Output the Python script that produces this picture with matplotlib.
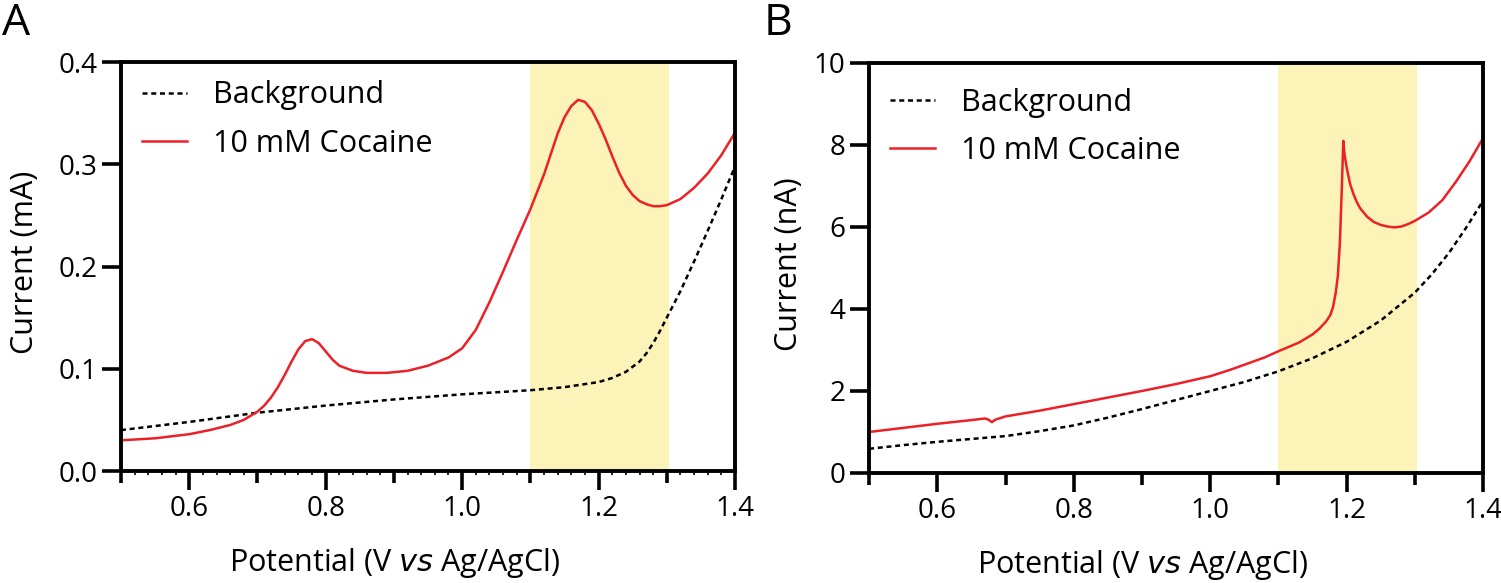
import numpy as np
import matplotlib
matplotlib.use('Agg')
import matplotlib.pyplot as plt
from matplotlib.ticker import MultipleLocator, FixedLocator, FormatStrFormatter

plt.rcParams['font.family'] = ['Open Sans', 'DejaVu Sans']

# panel A: current in mA
xa_red = [0.50, 0.55, 0.60, 0.63, 0.66, 0.68, 0.70, 0.71, 0.72, 0.73, 0.74, 0.75, 0.76, 0.77, 0.78,
          0.79, 0.80, 0.81, 0.82, 0.84, 0.86, 0.89, 0.92, 0.95, 0.98, 1.00, 1.02, 1.04, 1.06, 1.08,
          1.10, 1.12, 1.13, 1.14, 1.15, 1.16, 1.17, 1.18, 1.19, 1.20, 1.21, 1.22, 1.23, 1.24, 1.25,
          1.26, 1.27, 1.28, 1.29, 1.30, 1.32, 1.34, 1.36, 1.38, 1.40]
ya_red = [0.030, 0.032, 0.036, 0.040, 0.045, 0.050, 0.058, 0.064, 0.072, 0.082, 0.094, 0.107, 0.119,
          0.127, 0.129, 0.125, 0.117, 0.109, 0.103, 0.098, 0.096, 0.096, 0.098, 0.103, 0.111, 0.120,
          0.138, 0.165, 0.195, 0.226, 0.256, 0.290, 0.310, 0.330, 0.346, 0.357, 0.363, 0.361, 0.353,
          0.340, 0.325, 0.308, 0.292, 0.279, 0.270, 0.264, 0.261, 0.259, 0.259, 0.260, 0.266, 0.277,
          0.291, 0.309, 0.331]
xa_bg = [0.50, 0.60, 0.70, 0.80, 0.90, 1.00, 1.10, 1.15, 1.20, 1.22, 1.24, 1.26, 1.27, 1.28, 1.29,
         1.30, 1.31, 1.32, 1.34, 1.36, 1.38, 1.40]
ya_bg = [0.040, 0.048, 0.057, 0.064, 0.070, 0.075, 0.079, 0.082, 0.087, 0.091, 0.097, 0.107, 0.115,
         0.125, 0.137, 0.150, 0.163, 0.176, 0.205, 0.235, 0.266, 0.298]

# panel B: current in nA
xb_red = [0.50, 0.55, 0.60, 0.65, 0.67, 0.675, 0.68, 0.685, 0.70, 0.75, 0.80, 0.85, 0.90, 0.95, 1.00,
          1.03, 1.06, 1.08, 1.10, 1.13, 1.15, 1.16, 1.17, 1.176, 1.18, 1.184, 1.187, 1.19, 1.193,
          1.195, 1.197, 1.20, 1.205, 1.21, 1.215, 1.22, 1.23, 1.24, 1.25, 1.26, 1.27, 1.28, 1.29,
          1.30, 1.32, 1.34, 1.36, 1.38, 1.40]
yb_red = [1.00, 1.10, 1.20, 1.29, 1.33, 1.30, 1.24, 1.30, 1.38, 1.52, 1.68, 1.84, 2.00, 2.17, 2.36,
          2.52, 2.70, 2.82, 2.97, 3.18, 3.38, 3.52, 3.70, 3.85, 4.05, 4.40, 4.80, 5.60, 7.00,
          8.10, 7.75, 7.45, 7.05, 6.80, 6.60, 6.45, 6.25, 6.12, 6.05, 6.01, 5.99, 6.01, 6.07,
          6.15, 6.35, 6.65, 7.10, 7.60, 8.17]
xb_bg = [0.50, 0.55, 0.60, 0.65, 0.70, 0.75, 0.80, 0.85, 0.90, 0.95, 1.00, 1.05, 1.10, 1.15, 1.20,
         1.25, 1.30, 1.325, 1.35, 1.375, 1.40]
yb_bg = [0.59, 0.68, 0.76, 0.83, 0.90, 1.02, 1.16, 1.35, 1.56, 1.78, 2.00, 2.22, 2.48, 2.80, 3.20,
         3.72, 4.40, 4.85, 5.37, 5.98, 6.64]

band = (1.10, 1.303)
red = '#ec2127'
shade = '#fcf3b8'
labels = ['Background', '10 mM Cocaine']

fig = plt.figure(figsize=(15.01, 5.83), dpi=100)
axA = fig.add_axes([0.0806, 0.1921, 0.4091, 0.7015])
axB = fig.add_axes([0.5790, 0.1887, 0.4091, 0.7033])


def style_axis(ax, ylim, ymajor, ylab, ylab_x, leg_y):
    ax.axvspan(band[0], band[1], color=shade, lw=0, zorder=0)
    ax.set_xlim(0.5, 1.4)
    ax.set_ylim(*ylim)
    for s in ax.spines.values():
        s.set_linewidth(2.8)
    ax.xaxis.set_major_locator(FixedLocator([0.6, 0.8, 1.0, 1.2, 1.4]))
    ax.xaxis.set_minor_locator(FixedLocator([0.5, 0.7, 0.9, 1.1, 1.3]))
    ax.yaxis.set_major_locator(MultipleLocator(ymajor))
    ax.tick_params(which='major', direction='out', length=14, width=2.6, labelsize=20, pad=3)
    ax.tick_params(which='minor', axis='x', direction='out', length=8.5, width=2.6)
    ax.tick_params(which='minor', axis='y', length=0)
    ax.set_xlabel('Potential (V $\\mathit{vs}$ Ag/AgCl)', fontsize=22)
    ax.xaxis.label.set_va('baseline')
    ax.xaxis.set_label_coords(0.445, -0.2445)
    ax.set_ylabel(ylab, fontsize=22)
    ax.yaxis.label.set_va('baseline')
    ax.yaxis.set_label_coords(ylab_x, 0.51)
    ax.legend(loc='upper left', bbox_to_anchor=(0.034, leg_y), frameon=False, fontsize=22,
              handlelength=1.47, handletextpad=0.85, labelspacing=0.6, borderpad=0, borderaxespad=0)


axA.plot(xa_bg, ya_bg, color='black', lw=1.8, ls=(0, (2.0, 1.5)), label=labels[0])
axA.plot(xa_red, ya_red, color=red, lw=1.8, label=labels[1])
style_axis(axA, (0, 0.4), 0.1, 'Current (mA)', -0.143, 0.955)
axA.yaxis.set_major_formatter(FormatStrFormatter('%.1f'))
# fine ticks along the bottom of panel A
sec = axA.secondary_xaxis('bottom')
sec.xaxis.set_major_locator(MultipleLocator(0.02))
sec.tick_params(direction='out', length=3, width=1.2, labelbottom=False)
sec.spines['bottom'].set_visible(False)

axB.plot(xb_bg, yb_bg, color='black', lw=1.8, ls=(0, (2.0, 1.5)), label=labels[0])
axB.plot(xb_red, yb_red, color=red, lw=1.8, label=labels[1])
style_axis(axB, (0, 10), 2, 'Current (nA)', -0.117, 0.94)

fig.text(0.0015, 548 / 583, 'A', fontsize=32, va='baseline', ha='left')
fig.text(0.509, 548 / 583, 'B', fontsize=32, va='baseline', ha='left')

fig.savefig('out.png', dpi=100)
